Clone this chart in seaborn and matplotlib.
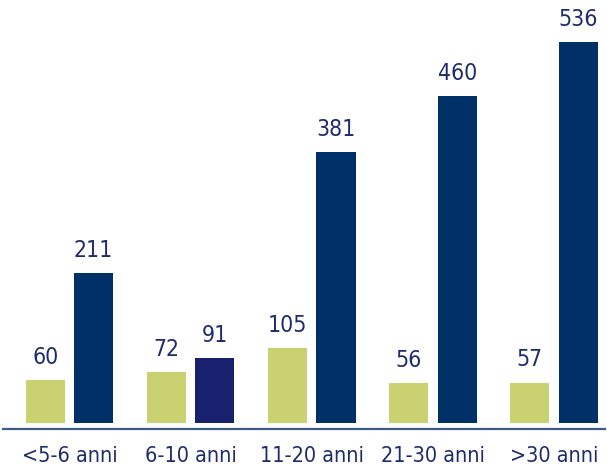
import matplotlib
matplotlib.use("Agg")
import matplotlib.pyplot as plt
import seaborn as sns
import pandas as pd

categories = ["<5-6 anni", "6-10 anni", "11-20 anni", "21-30 anni", ">30 anni"]
series_names = ["A", "B"]
values_a = [60, 72, 105, 56, 57]
values_b = [211, 91, 381, 460, 536]

df = pd.DataFrame({
    "cat": categories * 2,
    "serie": [series_names[0]] * 5 + [series_names[1]] * 5,
    "val": values_a + values_b,
})

sns.set_style("white")
plt.rcParams["font.family"] = ["DejaVu Sans"]

GREEN = "#c9d171"
BLUE = "#003068"
BLUE_ALT = "#17216d"
TEXT = "#1e2c6b"

fig = plt.figure(figsize=(6.07, 4.65), dpi=100)
ax = fig.add_axes([0.0049, 0.0774, 0.9918, 0.9226])
sns.barplot(data=df, x="cat", y="val", hue="serie", order=categories,
            hue_order=series_names, palette=[GREEN, BLUE], width=0.8, gap=0.19,
            legend=False, ax=ax, saturation=1, linewidth=0)

ax.containers[1][1].set_facecolor(BLUE_ALT)

for cont in ax.containers:
    ax.bar_label(cont, padding=8, fontsize=16.5, color=TEXT, fontstretch="condensed")

ax.set_xlim(-0.548, 4.42)
ax.set_ylim(-8.4, 595)
ax.set_xlabel("")
ax.set_ylabel("")
ax.set_yticks([])
for s in ["top", "right", "left"]:
    ax.spines[s].set_visible(False)
ax.spines["bottom"].set_color("#3f5c86")
ax.spines["bottom"].set_linewidth(1.6)
ax.tick_params(axis="x", length=0, pad=12, labelsize=15.5, labelcolor=TEXT)
for t in ax.get_xticklabels():
    t.set_fontstretch("condensed")

fig.savefig("out.png", dpi=100)
